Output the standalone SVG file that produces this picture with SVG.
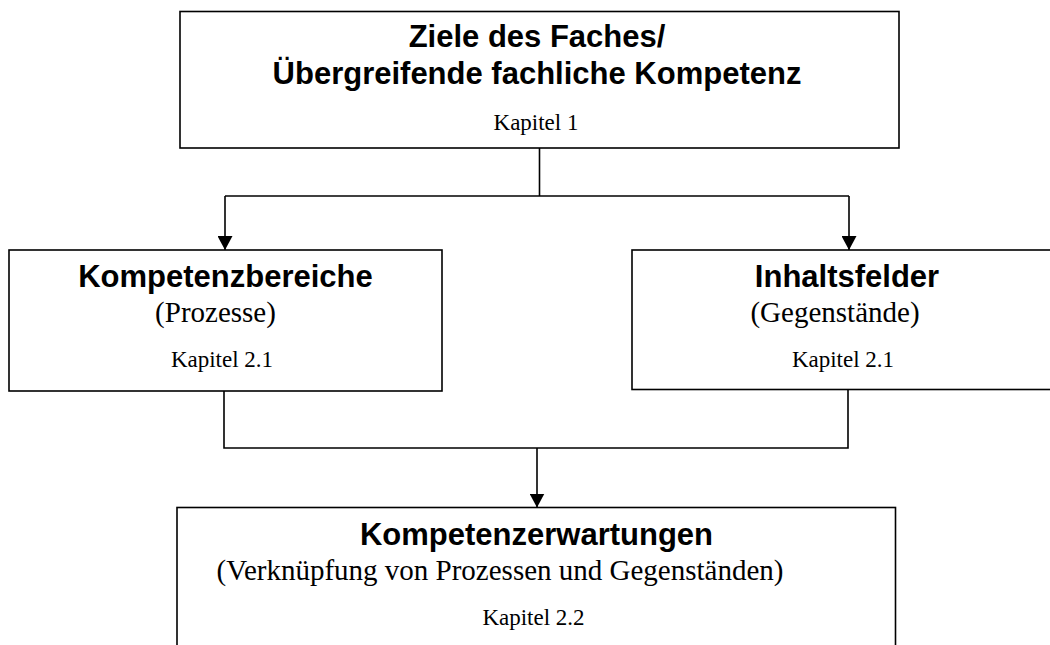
<svg xmlns="http://www.w3.org/2000/svg" width="1050" height="645" viewBox="0 0 1050 645">
<style>
.box{fill:#fff;stroke:#000;stroke-width:1.6}
.h{font-family:"Liberation Sans",Arial,sans-serif;font-weight:bold;font-size:31px;fill:#000;text-anchor:middle}
.s{font-family:"Liberation Serif","Times New Roman",serif;font-size:29px;fill:#000;text-anchor:middle}
.k{font-family:"Liberation Serif","Times New Roman",serif;font-size:23px;fill:#000;text-anchor:middle}
.c{fill:none;stroke:#000;stroke-width:1.6}
</style>
<defs>
<marker id="arr" markerUnits="userSpaceOnUse" markerWidth="14" markerHeight="15" refX="14" refY="7.5" orient="auto" viewBox="0 0 14 15">
<path d="M0,0 L14,7.5 L0,15 z" fill="#000"/>
</marker>
</defs>
<rect width="1050" height="645" fill="#fff"/>
<g id="connectors">
<path class="c" d="M539.5,148 V196"/>
<path class="c" d="M225,196 H849"/>
<path class="c" d="M225,196 V250" marker-end="url(#arr)"/>
<path class="c" d="M849,196 V250" marker-end="url(#arr)"/>
<path class="c" d="M224,391 V448 H848 V390"/>
<path class="c" d="M537,448 V507.5" marker-end="url(#arr)"/>
</g>
<g id="node-ziele">
<rect class="box" x="180" y="11.5" width="719" height="136.5"/>
<text class="h" x="537" y="47">Ziele des Faches/</text>
<text class="h" x="537" y="84">Übergreifende fachliche Kompetenz</text>
<text class="k" x="536" y="130">Kapitel 1</text>
</g>
<g id="node-kompetenzbereiche">
<rect class="box" x="9" y="250" width="433" height="141"/>
<text class="h" x="225.5" y="286.5">Kompetenzbereiche</text>
<text class="s" x="215.5" y="322">(Prozesse)</text>
<text class="k" x="222" y="366.5">Kapitel 2.1</text>
</g>
<g id="node-inhaltsfelder">
<rect class="box" x="632" y="250" width="430" height="139.5"/>
<text class="h" x="847" y="286.5">Inhaltsfelder</text>
<text class="s" x="835" y="322">(Gegenstände)</text>
<text class="k" x="843" y="366.5">Kapitel 2.1</text>
</g>
<g id="node-kompetenzerwartungen">
<rect class="box" x="177" y="507.5" width="718.5" height="160"/>
<text class="h" x="536.5" y="545">Kompetenzerwartungen</text>
<text class="s" x="500" y="580">(Verknüpfung von Prozessen und Gegenständen)</text>
<text class="k" x="533.5" y="625">Kapitel 2.2</text>
</g>
</svg>
